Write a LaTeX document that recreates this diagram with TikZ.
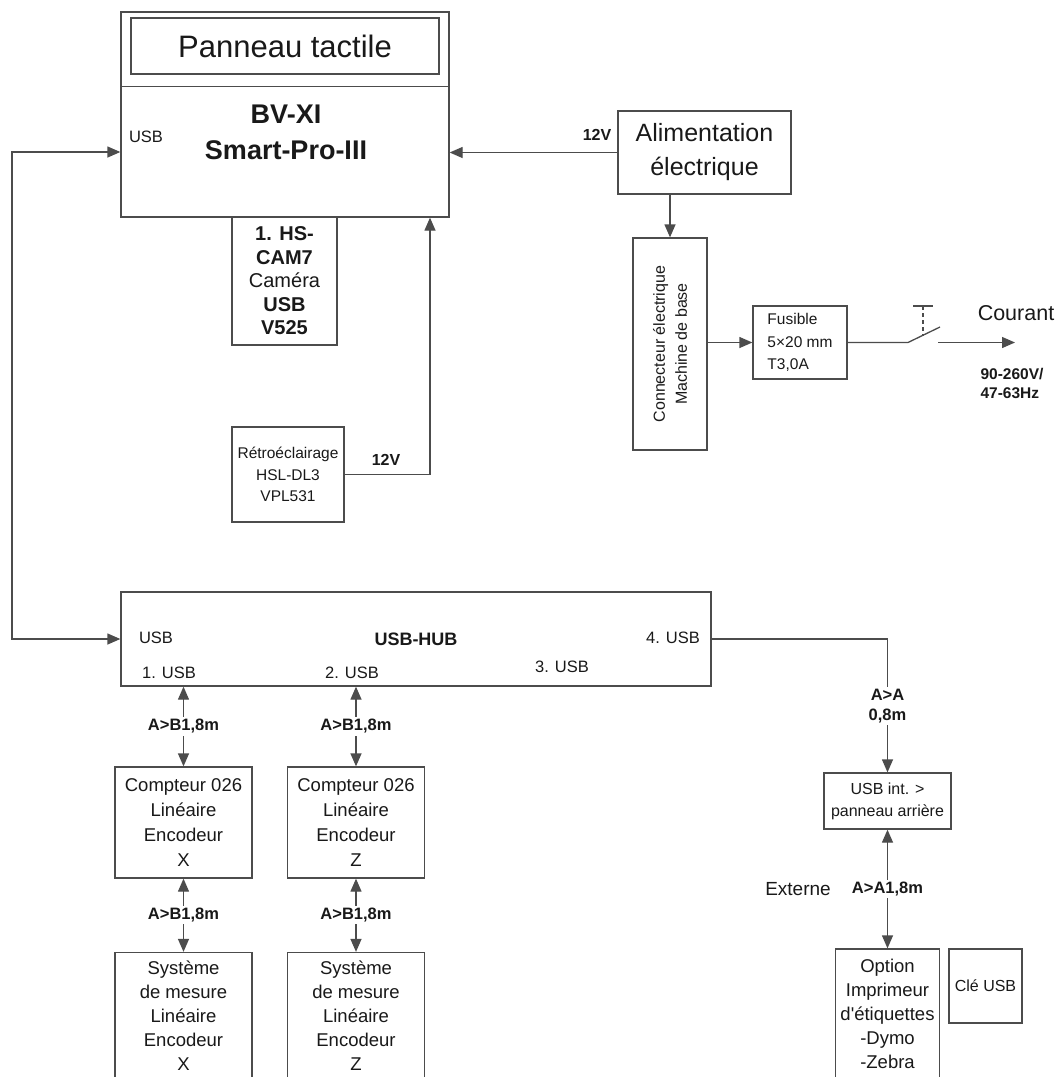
\documentclass[tikz,border=0pt]{standalone}
\usepackage{fontspec}
\setmainfont{Liberation Sans}
\usetikzlibrary{arrows.meta,calc}
\newcommand{\fsz}[2]{\fontsize{#1}{#2}\selectfont}
\begin{document}
\begin{tikzpicture}[x=1pt,y=-1pt,
  box/.style={draw=black!70, line width=1.3pt, inner sep=0pt, align=center, text=black!90},
  lbl/.style={inner sep=0pt, text=black!90},
  conn/.style={draw=black!70, line width=1.3pt},
  tip/.style={-{Triangle[length=13pt,width=11pt]}},
  dtip/.style={{Triangle[length=13pt,width=11pt]}-{Triangle[length=13pt,width=11pt]}},
  wl/.style={fill=white, inner sep=2pt, align=center, text=black!90, font=\fsz{16.5}{20}\bfseries},
]
\useasboundingbox (0,0) rectangle (1059,1077);
\clip (0,0) rectangle (1059,1077);
\fill[white] (0,0) rectangle (1059,1077);

% main unit
\node[box, minimum width=328pt, minimum height=205pt] (main) at (285,114.5) {};
\draw[conn] ($(main.north west)+(0,75)$) -- ($(main.north east)+(0,75)$);
\node[box, minimum width=308pt, minimum height=56pt, font=\fsz{31}{36}] (panel) at (285,46) {Panneau tactile};
\node[lbl, font=\fsz{27}{32}\bfseries] (t1) at (286,114) {BV-XI};
\node[lbl, font=\fsz{27}{32}\bfseries] (t2) at (286,150) {Smart-Pro-III};
\node[lbl, font=\fsz{16.5}{19}] (usb0) at (146,137) {USB};

% camera
\node[box, minimum width=105pt, minimum height=128pt, font=\fsz{20}{23.5}] (cam) at (284.5,281)
  {\textbf{1. HS-}\\\textbf{CAM7}\\Caméra\\\textbf{USB}\\\textbf{V525}};

% backlight
\node[box, minimum width=112pt, minimum height=95pt, font=\fsz{15.5}{21.5}] (retro) at (288,474.5)
  {Rétroéclairage\\HSL-DL3\\VPL531};
\coordinate (rv) at (430,0);
\draw[conn,tip] (retro.east) -| (main.south -| rv);
\node[lbl, font=\fsz{16}{19}\bfseries] (v12b) at (386,460) {12V};

% power supply
\node[box, minimum width=173pt, minimum height=83pt, font=\fsz{25}{34}] (alim) at (704.5,152.5)
  {Alimentation\\électrique};
\draw[conn,tip] (alim.west) -- (main.east |- alim.west);
\node[lbl, font=\fsz{16}{19}\bfseries] (v12a) at (597,135) {12V};

% connector
\node[box, minimum width=74pt, minimum height=212pt] (conn) at (670,344) {};
\node[lbl, rotate=90, align=center, font=\fsz{16}{22}] (conntxt) at (conn.center)
  {Connecteur électrique\\Machine de base};
\draw[conn,tip] (alim.south -| conn.north) -- (conn.north);

% fuse
\node[box, minimum width=94pt, minimum height=73pt, align=left, font=\fsz{15.5}{22.5}] (fus) at (800,342.5)
  {Fusible\\5×20 mm\\T3,0A};
\draw[conn,tip] (conn.east |- fus.west) -- (fus.west);

% switch
\coordinate (sw1) at (908,342.5);
\coordinate (sw2) at (940,327);
\coordinate (swd1) at (923,306);
\coordinate (swd2) at (923,335.5);
\coordinate (swt1) at (913,306);
\coordinate (swt2) at (933,306);
\coordinate (cur0) at (938,342.5);
\coordinate (cur1) at (1015,342.5);
\draw[conn] (fus.east) -- (sw1) -- (sw2);
\draw[conn, dash pattern=on 4pt off 3pt] (swd1) -- (swd2);
\draw[conn] (swt1) -- (swt2);
\draw[conn,tip] (cur0) -- (cur1);
\node[lbl, font=\fsz{21.5}{26}] (courant) at (1016,313) {Courant};
\node[lbl, align=left, font=\fsz{15.5}{19.5}\bfseries] (volt) at (1012,383.5) {90-260V/\\47-63Hz};

% USB hub
\node[box, minimum width=590pt, minimum height=94pt] (hub) at (416,639) {};
\node[lbl, font=\fsz{16.5}{19}] (hubusb) at (156,638) {USB};
\node[lbl, font=\fsz{18}{21}\bfseries] (hubt) at (416,639) {USB-HUB};
\node[lbl, font=\fsz{16.5}{19}] (hub4) at (673,638) {4. USB};
\node[lbl, font=\fsz{16.5}{19}] (hub1) at (169,673) {1. USB};
\node[lbl, font=\fsz{16.5}{19}] (hub2) at (352,673) {2. USB};
\node[lbl, font=\fsz{16.5}{19}] (hub3) at (562,667) {3. USB};

% left USB link
\coordinate (lft1) at (12,152);
\coordinate (lft2) at (12,639);
\draw[conn,dtip] (main.west |- lft1) -- (lft1) -- (lft2) -- (hub.west |- lft2);

% encoder chains
\node[box, minimum width=137pt, minimum height=111pt, font=\fsz{18.5}{25}] (cx) at (183.5,822.5)
  {Compteur 026\\Linéaire\\Encodeur\\X};
\node[box, minimum width=137pt, minimum height=111pt, font=\fsz{18.5}{25}] (cz) at (356,822.5)
  {Compteur 026\\Linéaire\\Encodeur\\Z};
\node[box, minimum width=137pt, minimum height=126pt, font=\fsz{18.5}{24}] (sx) at (183.5,1015.5)
  {Système\\de mesure\\Linéaire\\Encodeur\\X};
\node[box, minimum width=137pt, minimum height=126pt, font=\fsz{18.5}{24}] (sz) at (356,1015.5)
  {Système\\de mesure\\Linéaire\\Encodeur\\Z};
\draw[conn,dtip] (hub.south -| cx.north) -- node[wl] {A>B1,8m} (cx.north);
\draw[conn,dtip] (hub.south -| cz.north) -- node[wl] {A>B1,8m} (cz.north);
\draw[conn,dtip] (cx.south) -- node[wl] {A>B1,8m} (sx.north);
\draw[conn,dtip] (cz.south) -- node[wl] {A>B1,8m} (sz.north);

% right side
\node[box, minimum width=127pt, minimum height=56pt, font=\fsz{16}{22}] (usbint) at (887.5,801)
  {USB int. >\\panneau arrière};
\draw[conn,tip] (hub.east) -| node[pos=0.75, wl] {A>A\\0,8m} (usbint.north);
\node[box, minimum width=104pt, minimum height=130pt, font=\fsz{18.5}{24}] (option) at (887.5,1014)
  {Option\\Imprimeur\\d\textquotesingle étiquettes\\-Dymo\\-Zebra};
\draw[conn,dtip] (usbint.south) -- node[wl] {A>A1,8m} (option.north);
\node[lbl, font=\fsz{19}{22}] (externe) at (798,889) {Externe};
\node[box, minimum width=73pt, minimum height=74pt, font=\fsz{16}{19}] (cle) at (985.5,986) {Clé USB};
\end{tikzpicture}
\end{document}
